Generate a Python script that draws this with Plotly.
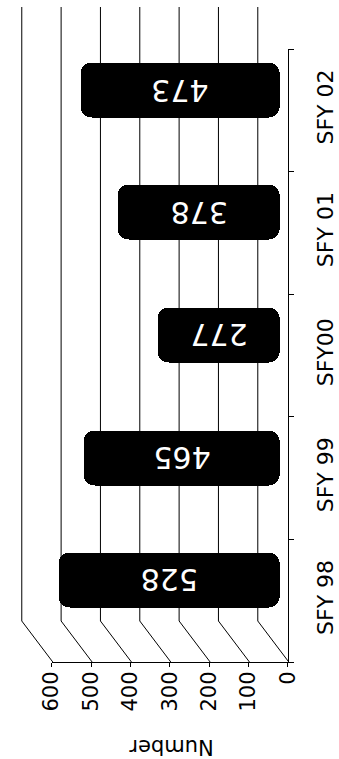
import plotly.graph_objects as go

categories = ["SFY 98", "SFY 99", "SFY00", "SFY 01", "SFY 02"]
values = [528, 465, 277, 378, 473]
value_ticks = [0, 100, 200, 300, 400, 500, 600]
value_tick_text = ["0", "100", "200", "300", "400", "500", "600"]
axis_title = "Number"

W, H = 339, 759


def X(px):
    return px / W


def Y(px):
    return 1 - px / H


# front plane (pixels)
FX0, FX1 = 42.7, 296.7      # value 600 .. value 0
FY0, FY1 = 49.0, 662.0      # top .. bottom of category axis
DX, DY = 31.0, 41.0         # depth offset to the back wall
VMAX = 600
K = (FX1 - FX0) / VMAX      # pixels per unit
cap_px = 7.0
cap_u = cap_px / K
PAD = 60                    # padding (units) so caps and back wall are not clipped

# mid-depth plane for the cylinders
mid_zero_px = FX1 - DX / 2
mid_domain_x = [X(mid_zero_px - (VMAX + PAD) * K), X(mid_zero_px + PAD * K)]

fig = go.Figure()

bar_common = dict(
    y=categories, orientation="h", width=0.45,
    marker=dict(color="black", line=dict(width=0), cornerradius=11),
    yaxis="y", hoverinfo="skip", showlegend=False,
)
# main cylinder body, rounded at the value end
fig.add_trace(go.Bar(
    base=[-cap_u] * len(values),
    x=[v + 2 * cap_u for v in values],
    xaxis="x",
    **bar_common,
))
# base end of each cylinder drawn on a mirrored axis (u = VMAX - value), rounded at the base end
fig.add_trace(go.Bar(
    base=[VMAX - v / 2 for v in values],
    x=[v / 2 + cap_u for v in values],
    xaxis="x3",
    **bar_common,
))

# invisible trace to create the front axes
fig.add_trace(go.Scatter(
    y=categories, x=[0] * len(categories), mode="markers",
    marker=dict(opacity=0), xaxis="x2", yaxis="y2",
    hoverinfo="skip", showlegend=False,
))

# back-wall grid lines and floor diagonals, anchored on the (wider) mid-depth axis
shapes = []
for v in value_ticks:
    shapes.append(dict(
        type="line", layer="below",
        xref="x", xsizemode="pixel", xanchor=v, x0=-DX / 2, x1=-DX / 2,
        yref="paper", y0=Y(FY1 - DY), y1=Y(7),
        line=dict(color="black", width=1),
    ))
    shapes.append(dict(
        type="line", layer="below",
        xref="x", xsizemode="pixel", xanchor=v, x0=-DX / 2, x1=DX / 2,
        yref="paper", y0=Y(FY1 - DY), y1=Y(FY1),
        line=dict(color="black", width=1),
    ))

font = dict(family="DejaVu Sans", color="black")

annotations = [dict(
    text=axis_title, textangle=180, showarrow=False,
    xref="paper", yref="paper", x=X(171), y=Y(747),
    xanchor="center", yanchor="middle",
    font=dict(size=21, **font),
)]
for c, v in zip(categories, values):
    annotations.append(dict(
        text=str(v), textangle=180, showarrow=False,
        xref="x", yref="y", x=v / 2, y=c,
        xanchor="center", yanchor="middle",
        font=dict(family="DejaVu Sans", size=30, color="white"),
    ))

fig.update_layout(
    width=W, height=H, autosize=False,
    margin=dict(l=0, r=0, t=0, b=0),
    paper_bgcolor="white", plot_bgcolor="rgba(0,0,0,0)",
    shapes=shapes,
    showlegend=False,
    barmode="overlay",
    bargap=0,
    hovermode=False,
    xaxis=dict(
        domain=mid_domain_x, anchor="y",
        range=[VMAX + PAD, -PAD], visible=False, fixedrange=True,
    ),
    xaxis3=dict(
        domain=mid_domain_x, anchor="y", overlaying="x",
        range=[-PAD, VMAX + PAD], visible=False, fixedrange=True,
    ),
    yaxis=dict(
        domain=[Y(FY1 - DY / 2), Y(FY0 - DY / 2)], anchor="x",
        type="category", categoryorder="array", categoryarray=categories,
        range=[-0.5, len(categories) - 0.5], visible=False,
    ),
    xaxis2=dict(
        domain=[X(FX0), X(FX1)], anchor="y2",
        range=[VMAX, 0], tickmode="array", tickvals=value_ticks, ticktext=value_tick_text,
        showline=True, linecolor="black", linewidth=1,
        ticks="outside", ticklen=4, tickcolor="black", tickwidth=1,
        tickangle=-90, tickfont=dict(size=21, **font),
        ticklabelstandoff=-4,
        showgrid=False, zeroline=False,
    ),
    yaxis2=dict(
        domain=[Y(FY1), Y(FY0)], anchor="x2", side="right",
        type="category", categoryorder="array", categoryarray=categories,
        range=[-0.5, len(categories) - 0.5],
        showline=True, linecolor="black", linewidth=1,
        ticks="outside", tickson="boundaries", ticklen=5, tickcolor="black",
        tickangle=-90, tickfont=dict(size=22, **font),
        ticklabelstandoff=18,
        showgrid=False, zeroline=False,
    ),
    annotations=annotations,
)

fig.write_html(
    "out.html",
    config={"displayModeBar": False},
    post_script="document.body.style.margin='0';document.body.style.overflow='hidden';",
)
